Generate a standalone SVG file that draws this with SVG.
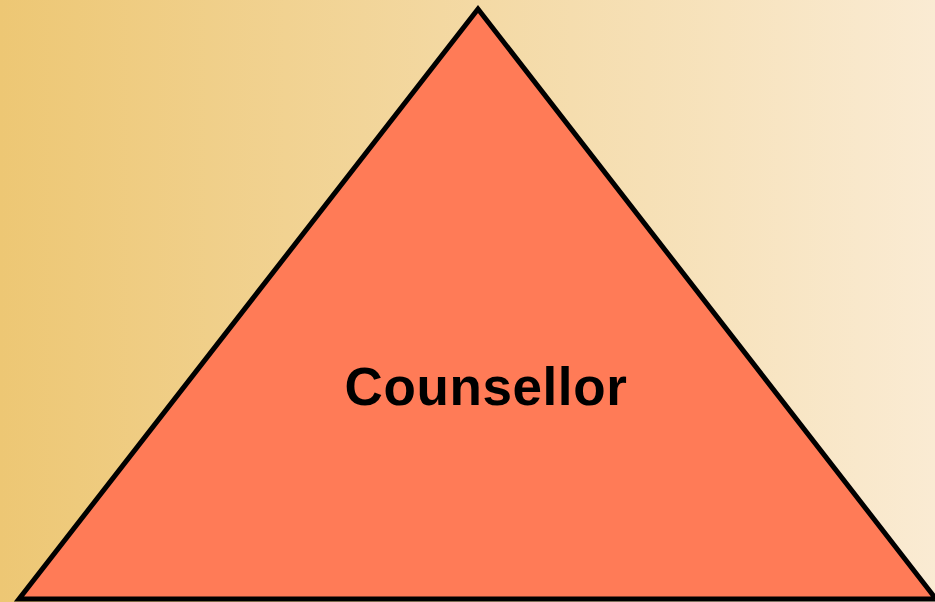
<svg xmlns="http://www.w3.org/2000/svg" width="935" height="602" viewBox="0 0 935 602">
<style>
.tri{fill:#FF7B57;stroke:#000;stroke-width:5;stroke-linejoin:miter}
.lbl{font-family:"Liberation Sans",Arial,sans-serif;font-weight:bold;font-size:53px;letter-spacing:0.6px;fill:#000;text-anchor:middle}
</style>
<defs>
<linearGradient id="bg" x1="0" y1="0" x2="1" y2="0">
<stop offset="0" stop-color="#EDC774"/>
<stop offset="1" stop-color="#FAEBD3"/>
</linearGradient>
</defs>
<rect x="0" y="0" width="935" height="602" fill="url(#bg)"/>
<g id="counsellor">
<polygon class="tri" points="478,9 19,599 936,599"/>
<text class="lbl" x="486" y="405">Counsellor</text>
</g>
</svg>
